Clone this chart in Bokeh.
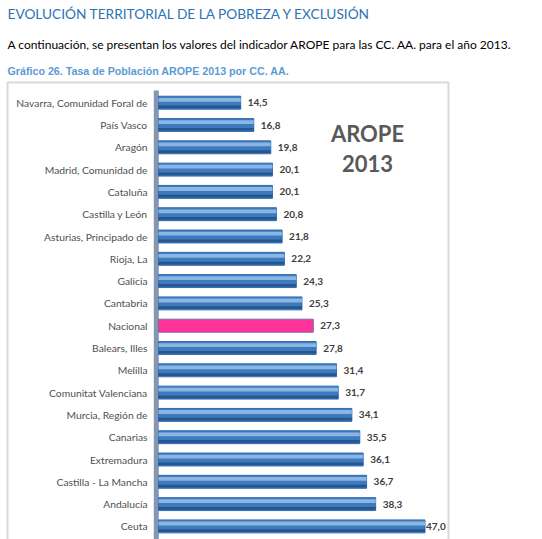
from bokeh.plotting import figure
from bokeh.models import Range1d, Label, ColumnDataSource
from bokeh.core.properties import value
from bokeh.embed import file_html
from bokeh.resources import INLINE

heading = "EVOLUCIÓN TERRITORIAL DE LA POBREZA Y EXCLUSIÓN"
paragraph = "A continuación, se presentan los valores del indicador AROPE para las CC. AA. para el año 2013."
caption = "Gráfico 26. Tasa de Población AROPE 2013 por CC. AA."
chart_title = ["AROPE", "2013"]

regions = ["Navarra, Comunidad Foral de", "País Vasco", "Aragón", "Madrid, Comunidad de",
           "Cataluña", "Castilla y León", "Asturias, Principado de", "Rioja, La", "Galicia",
           "Cantabria", "Nacional", "Balears, Illes", "Melilla", "Comunitat Valenciana",
           "Murcia, Región de", "Canarias", "Extremadura", "Castilla - La Mancha",
           "Andalucía", "Ceuta"]
arope = [14.5, 16.8, 19.8, 20.1, 20.1, 20.8, 21.8, 22.2, 24.3, 25.3, 27.3, 27.8,
         31.4, 31.7, 34.1, 35.5, 36.1, 36.7, 38.3, 47.0]
value_labels = ["14,5", "16,8", "19,8", "20,1", "20,1", "20,8", "21,8", "22,2", "24,3", "25,3",
                "27,3", "27,8", "31,4", "31,7", "34,1", "35,5", "36,1", "36,7", "38,3", "47,0"]

n = len(regions)
ypos = [n - 1 - i for i in range(n)]  # first region at top
is_nat = [r == "Nacional" for r in regions]
colors = ["#FF3399" if nat else "#3D7ABF" for nat in is_nat]
lines = ["#8064A2" if nat else "#2F6DB5" for nat in is_nat]
offsets = [1 if v > 45 else 7 for v in arope]

src = ColumnDataSource(dict(y=ypos, v=arope, c=colors, lc=lines, lab=value_labels,
                            off=offsets, reg=regions))
blue_idx = [i for i in range(n) if not is_nat[i]]
bsrc_hi = ColumnDataSource(dict(y=[ypos[i] + 0.13 for i in blue_idx], v=[arope[i] for i in blue_idx]))
bsrc_lo = ColumnDataSource(dict(y=[ypos[i] - 0.19 for i in blue_idx], v=[arope[i] for i in blue_idx]))

W, H = 542, 539
px_x = 5.67          # pixels per unit
px_y = 22.3          # pixels per category
zero_px = 158        # x of value 0 from the frame's left edge
top_px = 102.2       # y of first category from the frame's top
x_start = -zero_px / px_x
y_end = (n - 1) + top_px / px_y
p = figure(width=W, height=H, output_backend="svg", toolbar_location=None,
           x_range=Range1d(x_start, x_start + W / px_x),
           y_range=Range1d(y_end - H / px_y, y_end),
           x_axis_location=None, y_axis_location=None,
           min_border_left=0, min_border_right=0, min_border_top=0, min_border_bottom=0)
p.outline_line_color = None
p.grid.visible = False
p.background_fill_color = "white"
p.border_fill_color = "white"

def dx(px):
    return x_start + px / px_x

def dy(py):
    return y_end - py / px_y

# chart box: left, top and right sides (the bottom lies below the page)
p.line(x=[dx(7), dx(7), dx(448), dx(448)], y=[dy(560), dy(82), dy(82), dy(560)],
       line_color="#D9D9D9", line_width=2)

# vertical category axis line
axis_x = dx(155.8)
p.segment(x0=[axis_x], x1=[axis_x], y0=[dy(560)], y1=[dy(90)],
          line_color="#8497B0", line_width=5)

bar_h = 0.58
p.hbar(y="y", right="v", left=0, height=bar_h, source=src, fill_color="c", line_color="lc", line_width=1)
p.hbar(y="y", right="v", left=0, height=0.17, source=bsrc_hi, fill_color="#93BDE6", line_color=None, fill_alpha=0.9)
p.hbar(y="y", right="v", left=0, height=0.12, source=bsrc_lo, fill_color="#26568C", line_color=None)

# value labels
p.text(x="v", y="y", text="lab", x_offset="off", source=src, text_font=value("Lato"),
       text_font_style="bold", text_font_size="10px", text_color="#404040",
       text_baseline="middle", text_align="left")
# category labels
p.text(x=0, y="y", text="reg", x_offset=-11, source=src, text_font=value("Lato"),
       text_font_size="10.3px", text_color="#505050",
       text_baseline="middle", text_align="right")

def lab(txt, x, y, font, size, color, style="normal", align="left"):
    # screen units: x from the left, y up from the bottom of the frame
    p.add_layout(Label(x=x, y=H - y, x_units="screen", y_units="screen", text=txt,
                       text_font=font, text_font_size=size, text_color=color,
                       text_font_style=style, text_align=align, text_baseline="alphabetic"))

lab(heading, 7, 13, "Lato", "13.7px", "#2E74B5")
lab(paragraph, 7, 44, "Lato", "12px", "#000000")
lab(caption, 7, 70.5, "Liberation Sans", "10.7px", "#5B9BD5", style="bold")
lab(chart_title[0], 367, 133, "Lato", "22px", "#595959", style="bold", align="center")
lab(chart_title[1], 367, 163, "Lato", "22px", "#595959", style="bold", align="center")

open("out.html", "w").write(file_html(p, INLINE))
